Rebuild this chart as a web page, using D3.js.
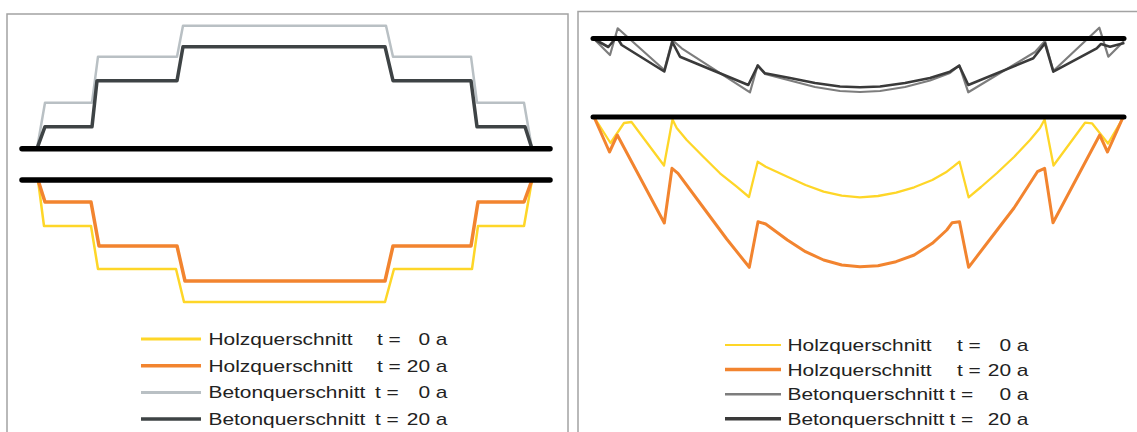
<!DOCTYPE html>
<html>
<head>
<meta charset="utf-8">
<script src="https://cdn.jsdelivr.net/npm/d3@7"></script>
<style>
  html, body { margin: 0; padding: 0; background: #fff; }
  svg { display: block; }
</style>
</head>
<body>
<svg id="chart" width="1137" height="432"></svg>
<script>
// ---------------- DATA ----------------
// Left panel: stepped cross-section, position along span and height/depth from datum
const stepBeton0X  = [0, 8, 55, 61, 140, 146, 349, 356, 434, 440, 487, 495];
const stepBeton0H  = [0, 46, 46, 92, 92, 123, 123, 92, 92, 46, 46, 0];
const stepBeton20X = [0, 8, 55, 60, 140, 146, 348, 356, 434, 440, 488, 495];
const stepBeton20H = [0, 22, 22, 68, 68, 102, 102, 68, 68, 22, 22, 0];
const stepHolz0X   = [1, 7, 54, 61, 139, 147, 348, 357, 435, 441, 487, 495];
const stepHolz0D   = [0, 46, 46, 89, 89, 122, 122, 89, 89, 46, 46, 0];
const stepHolz20X  = [1, 8, 54, 62, 140, 148, 348, 356, 434, 441, 487, 495];
const stepHolz20D  = [0, 22, 22, 66, 66, 101, 101, 66, 66, 22, 22, 0];
const leftDatumX   = [-15, 513];

// Right panel: deflection-like curves, position along span and offset below datum
const curveBeton0X  = [0, 16, 23.7, 70.3, 78.3, 87.7, 156, 163.7, 171, 196, 221, 246, 266, 286, 311, 336, 356, 365.3, 374.3, 441, 451, 459.3, 505.3, 514.3, 529.3];
const curveBeton0Y  = [0.5, 16.5, -10.2, 31.5, 1.5, 9.8, 53.8, 26.5, 35.5, 42, 48.5, 52.5, 53.5, 52.5, 48.5, 42, 34.5, 27, 53.8, 13.5, 2.5, 32.5, -10.8, 18.2, 3.2];
const curveBeton20X = [0, 14.3, 22.7, 27.7, 70.3, 78.3, 86, 154.3, 163.7, 171, 196, 221, 246, 266, 286, 311, 336, 356, 365.3, 374.3, 439.3, 451, 459.3, 502.7, 507, 516, 529.3];
const curveBeton20Y = [0.5, 8.5, -1.5, 6.5, 33, 3.5, 18.2, 46.5, 27.2, 34.8, 39.5, 44.5, 48, 48.8, 48, 44.5, 39.5, 33.2, 27.2, 46.5, 19.8, 4.8, 33.2, 9.8, 5.5, 8.2, 4.8];
const curveHolz0X   = [0, 16.5, 30, 37.5, 70, 78.5, 82.7, 92.7, 109.3, 126, 142.7, 155, 163.7, 171.7, 193.4, 211.5, 229.6, 247.7, 265.9, 284, 302.1, 320.2, 338.3, 352.8, 359.3, 365.5, 374.6, 387, 403, 420, 436, 446, 450.6, 459.5, 491, 498, 514, 529];
const curveHolz0Y   = [0, 26, 6, 5, 48.5, 2.5, 11, 23, 39.7, 56.3, 69.7, 80, 44.7, 49.7, 59.7, 68, 74.7, 78.7, 80.3, 79, 75.7, 70.3, 63, 54.7, 49.7, 44.7, 80.3, 70, 56, 40, 23, 11, 2.5, 48.5, 5.7, 6.3, 26.5, 1];
const curveHolz20X  = [0, 15.5, 23.3, 70.3, 78, 84, 109.3, 132.7, 155.3, 164, 171.7, 193.4, 211.5, 229.6, 247.7, 265.9, 284, 302, 320.2, 338.3, 352.8, 358.2, 365.5, 374.6, 397, 420, 443.4, 450.6, 459, 505.7, 513.5, 528.5];
const curveHolz20Y  = [0, 35, 18, 106, 51.3, 56.3, 90.5, 122, 150.3, 104.7, 107, 123, 134.7, 143, 148, 149.7, 148.7, 144.7, 138, 126.3, 113, 105.7, 104.7, 150.3, 121, 91, 54.7, 51.3, 105.7, 18, 35, 1.3];
const rightDatumX   = [-1, 530];

// Legend
const legendNames = ["Holzquerschnitt", "Holzquerschnitt", "Betonquerschnitt", "Betonquerschnitt"];
const legendTimes = ["0 a", "20 a", "0 a", "20 a"];

// ---------------- DRAWING ----------------
const svg = d3.select("#chart");
svg.append("rect").attr("width", 1137).attr("height", 432).attr("fill", "#fff");

// panel frames
svg.append("rect").attr("x", 7).attr("y", 14).attr("width", 561).attr("height", 440)
  .attr("fill", "none").attr("stroke", "#a3a3a3").attr("stroke-width", 1.5);
svg.append("rect").attr("x", 578).attr("y", 11.5).attr("width", 580).attr("height", 440)
  .attr("fill", "none").attr("stroke", "#a3a3a3").attr("stroke-width", 1.5);

const zip = (xs, ys) => xs.map((x, i) => [x, ys[i]]);

function drawLine(g, data, xs, ys, color, width) {
  const line = d3.line().x(d => xs(d[0])).y(d => ys(d[1])).curve(d3.curveLinear);
  g.append("path").datum(data).attr("d", line)
    .attr("fill", "none").attr("stroke", color).attr("stroke-width", width)
    .attr("stroke-linejoin", "round").attr("stroke-linecap", "round");
}

// ----- Left panel -----
const gL = svg.append("g");
const xL = d3.scaleLinear().domain([0, 495]).range([37, 532]);
const yLUp = d3.scaleLinear().domain([0, 130]).range([148.7, 18.7]);
const yLDown = d3.scaleLinear().domain([0, 130]).range([180, 310]);

const colors = {
  holz0: "#fed628",
  holz20: "#f2842f",
  beton0L: "#b9c0c4",
  beton20L: "#3e4345",
  beton0R: "#7d7d7d",
  beton20R: "#3a3a3a"
};

drawLine(gL, zip(stepBeton0X, stepBeton0H), xL, yLUp, colors.beton0L, 2.5);
drawLine(gL, zip(stepBeton20X, stepBeton20H), xL, yLUp, colors.beton20L, 3.5);
drawLine(gL, zip(stepHolz0X, stepHolz0D), xL, yLDown, colors.holz0, 2.5);
drawLine(gL, zip(stepHolz20X, stepHolz20D), xL, yLDown, colors.holz20, 3.5);
drawLine(gL, leftDatumX.map(x => [x, 0]), xL, yLUp, "#000", 5.5);
drawLine(gL, leftDatumX.map(x => [x, 0]), xL, yLDown, "#000", 5.5);

// ----- Right panel -----
const gR = svg.append("g");
const xR = d3.scaleLinear().domain([0, 529]).range([594, 1123]);
const yRUp = d3.scaleLinear().domain([-20, 60]).range([18.5, 98.5]);
const yRDown = d3.scaleLinear().domain([0, 160]).range([117, 277]);

drawLine(gR, zip(curveBeton0X, curveBeton0Y), xR, yRUp, colors.beton0R, 2.2);
drawLine(gR, zip(curveBeton20X, curveBeton20Y), xR, yRUp, colors.beton20R, 2.6);
drawLine(gR, zip(curveHolz0X, curveHolz0Y), xR, yRDown, colors.holz0, 2.3);
drawLine(gR, zip(curveHolz20X, curveHolz20Y), xR, yRDown, colors.holz20, 3);
drawLine(gR, rightDatumX.map(x => [x, 0]), xR, yRUp, "#000", 5);
drawLine(gR, rightDatumX.map(x => [x, 0]), xR, yRDown, "#000", 5);

// ----- Legends -----
function drawLegend(cfg) {
  const g = svg.append("g");
  legendNames.forEach((name, i) => {
    const y = cfg.y0 + i * cfg.dy;
    g.append("line").attr("x1", cfg.lx1).attr("x2", cfg.lx2).attr("y1", y).attr("y2", y)
      .attr("stroke", cfg.colors[i]).attr("stroke-width", cfg.widths[i]);
    const base = y + 6;
    const txt = (x, s, anchor) => g.append("text")
      .attr("transform", `translate(${x},${base}) scale(1.23,1)`)
      .attr("text-anchor", anchor)
      .attr("font-family", "'Liberation Sans', Arial, sans-serif")
      .attr("font-size", 17).attr("fill", "#222").text(s);
    txt(cfg.tx, name, "start");
    txt(cfg.tEqX[i], "t =", "start");
    txt(cfg.valEnd, legendTimes[i], "end");
  });
}

drawLegend({
  y0: 339, dy: 26.7, lx1: 141, lx2: 201, tx: 208.5,
  tEqX: [377, 377, 375, 375], valEnd: 447.5,
  colors: [colors.holz0, colors.holz20, colors.beton0L, colors.beton20L],
  widths: [3, 3.5, 3, 3.5]
});
drawLegend({
  y0: 345, dy: 24.6, lx1: 725, lx2: 781, tx: 787.5,
  tEqX: [957, 957, 949.5, 949.5], valEnd: 1028.5,
  colors: [colors.holz0, colors.holz20, colors.beton0R, colors.beton20R],
  widths: [2, 3.5, 2.5, 3.5]
});
</script>
</body>
</html>
